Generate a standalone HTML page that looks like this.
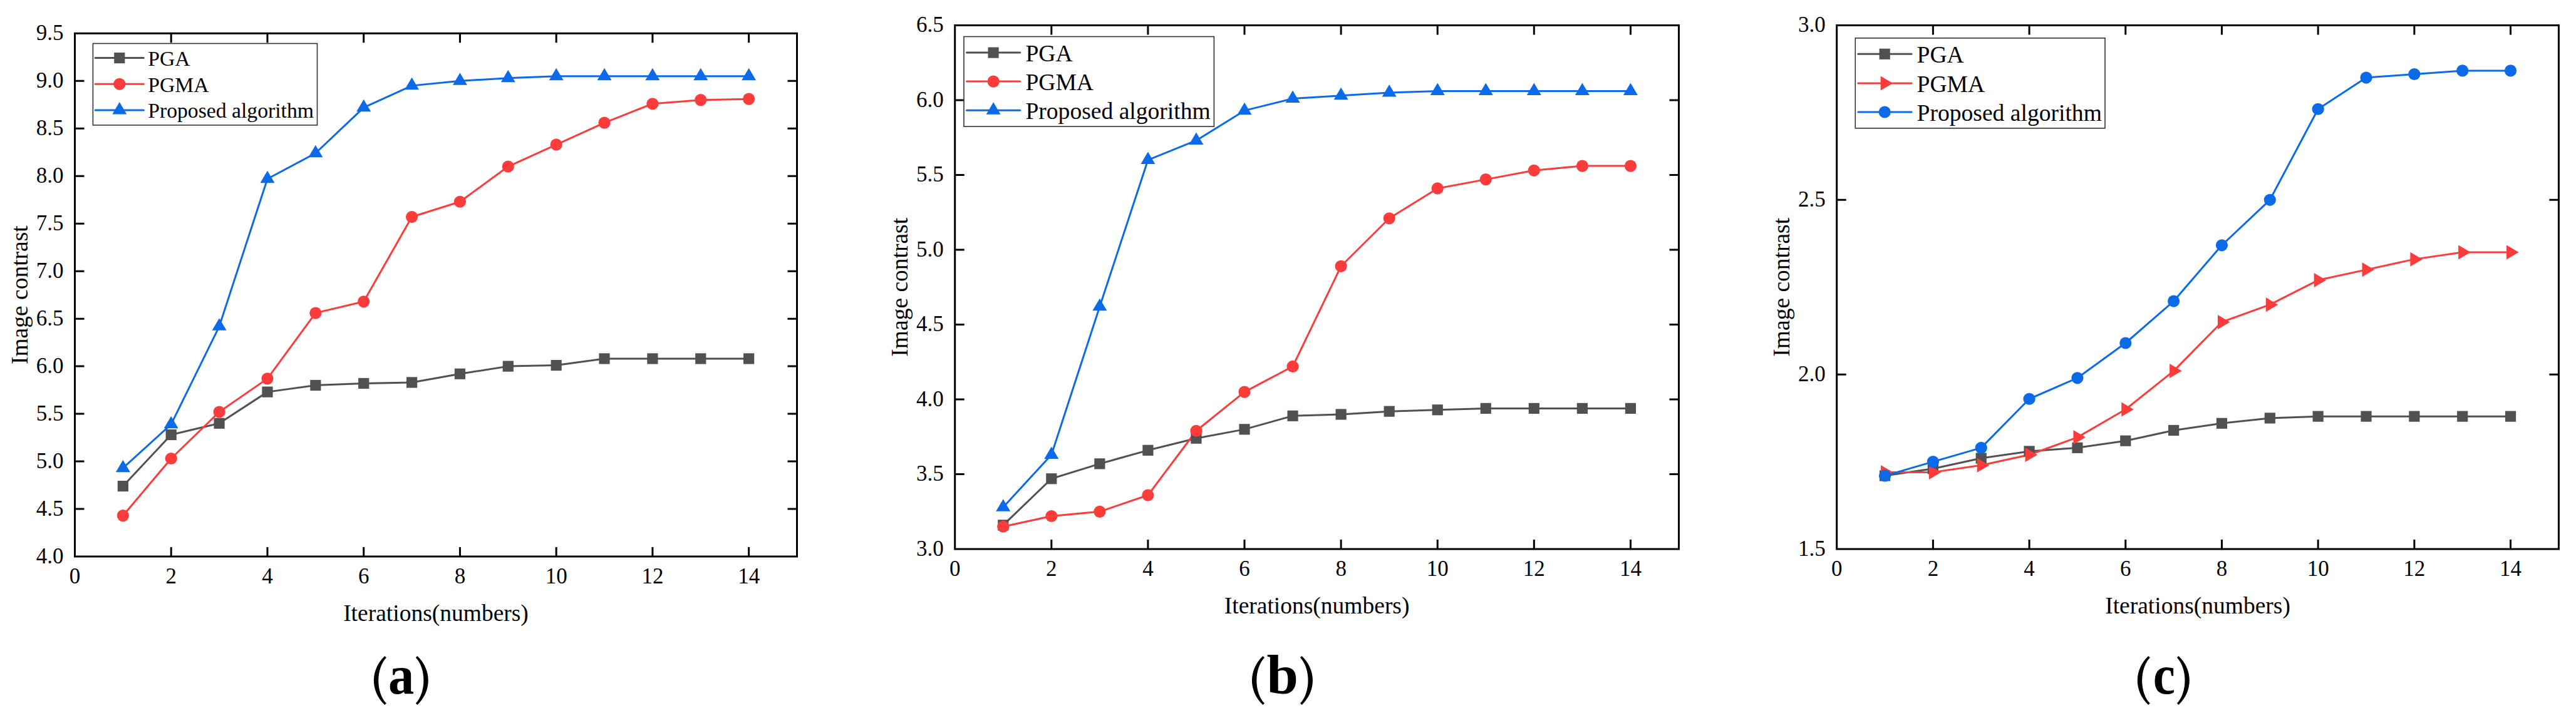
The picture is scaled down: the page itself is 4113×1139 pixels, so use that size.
<!DOCTYPE html>
<html><head><meta charset="utf-8"><style>
html,body{margin:0;padding:0;background:#fff;}
body{width:4113px;height:1139px;overflow:hidden;}
svg{display:block;}
text{font-family:"Liberation Serif", serif;fill:#000;}
</style></head><body>
<svg width="4113" height="1139" viewBox="0 0 4113 1139">
<rect width="4113" height="1139" fill="#fff"/>
<polyline points="196.37,776.56 273.23,694.51 350.10,676.28 426.97,626.13 503.83,615.50 580.70,612.46 657.57,610.94 734.43,597.26 811.30,585.11 888.17,583.59 965.03,572.95 1041.90,572.95 1118.77,572.95 1195.63,572.95" fill="none" stroke="#515151" stroke-width="3.0" stroke-linejoin="round" stroke-linecap="round"/>
<polyline points="196.37,823.66 273.23,732.50 350.10,658.04 426.97,604.86 503.83,500.02 580.70,481.79 657.57,346.55 734.43,322.24 811.30,266.02 888.17,231.08 965.03,196.13 1041.90,165.74 1118.77,159.66 1195.63,158.14" fill="none" stroke="#FC3B3B" stroke-width="3.0" stroke-linejoin="round" stroke-linecap="round"/>
<polyline points="196.37,747.69 273.23,677.80 350.10,521.29 426.97,285.78 503.83,244.75 580.70,171.82 657.57,136.87 734.43,129.27 811.30,124.71 888.17,121.68 965.03,121.68 1041.90,121.68 1118.77,121.68 1195.63,121.68" fill="none" stroke="#0B6AE8" stroke-width="3.0" stroke-linejoin="round" stroke-linecap="round"/>
<rect x="187.77" y="767.96" width="17.20" height="17.20" fill="#515151"/>
<rect x="264.63" y="685.91" width="17.20" height="17.20" fill="#515151"/>
<rect x="341.50" y="667.68" width="17.20" height="17.20" fill="#515151"/>
<rect x="418.37" y="617.53" width="17.20" height="17.20" fill="#515151"/>
<rect x="495.23" y="606.90" width="17.20" height="17.20" fill="#515151"/>
<rect x="572.10" y="603.86" width="17.20" height="17.20" fill="#515151"/>
<rect x="648.97" y="602.34" width="17.20" height="17.20" fill="#515151"/>
<rect x="725.83" y="588.66" width="17.20" height="17.20" fill="#515151"/>
<rect x="802.70" y="576.51" width="17.20" height="17.20" fill="#515151"/>
<rect x="879.57" y="574.99" width="17.20" height="17.20" fill="#515151"/>
<rect x="956.43" y="564.35" width="17.20" height="17.20" fill="#515151"/>
<rect x="1033.30" y="564.35" width="17.20" height="17.20" fill="#515151"/>
<rect x="1110.17" y="564.35" width="17.20" height="17.20" fill="#515151"/>
<rect x="1187.03" y="564.35" width="17.20" height="17.20" fill="#515151"/>
<circle cx="196.37" cy="823.66" r="9.60" fill="#FC3B3B"/>
<circle cx="273.23" cy="732.50" r="9.60" fill="#FC3B3B"/>
<circle cx="350.10" cy="658.04" r="9.60" fill="#FC3B3B"/>
<circle cx="426.97" cy="604.86" r="9.60" fill="#FC3B3B"/>
<circle cx="503.83" cy="500.02" r="9.60" fill="#FC3B3B"/>
<circle cx="580.70" cy="481.79" r="9.60" fill="#FC3B3B"/>
<circle cx="657.57" cy="346.55" r="9.60" fill="#FC3B3B"/>
<circle cx="734.43" cy="322.24" r="9.60" fill="#FC3B3B"/>
<circle cx="811.30" cy="266.02" r="9.60" fill="#FC3B3B"/>
<circle cx="888.17" cy="231.08" r="9.60" fill="#FC3B3B"/>
<circle cx="965.03" cy="196.13" r="9.60" fill="#FC3B3B"/>
<circle cx="1041.90" cy="165.74" r="9.60" fill="#FC3B3B"/>
<circle cx="1118.77" cy="159.66" r="9.60" fill="#FC3B3B"/>
<circle cx="1195.63" cy="158.14" r="9.60" fill="#FC3B3B"/>
<polygon points="196.37,734.69 207.87,754.19 184.87,754.19" fill="#0B6AE8"/>
<polygon points="273.23,664.80 284.73,684.30 261.73,684.30" fill="#0B6AE8"/>
<polygon points="350.10,508.29 361.60,527.79 338.60,527.79" fill="#0B6AE8"/>
<polygon points="426.97,272.78 438.47,292.28 415.47,292.28" fill="#0B6AE8"/>
<polygon points="503.83,231.75 515.33,251.25 492.33,251.25" fill="#0B6AE8"/>
<polygon points="580.70,158.82 592.20,178.32 569.20,178.32" fill="#0B6AE8"/>
<polygon points="657.57,123.87 669.07,143.37 646.07,143.37" fill="#0B6AE8"/>
<polygon points="734.43,116.27 745.93,135.77 722.93,135.77" fill="#0B6AE8"/>
<polygon points="811.30,111.71 822.80,131.21 799.80,131.21" fill="#0B6AE8"/>
<polygon points="888.17,108.68 899.67,128.18 876.67,128.18" fill="#0B6AE8"/>
<polygon points="965.03,108.68 976.53,128.18 953.53,128.18" fill="#0B6AE8"/>
<polygon points="1041.90,108.68 1053.40,128.18 1030.40,128.18" fill="#0B6AE8"/>
<polygon points="1118.77,108.68 1130.27,128.18 1107.27,128.18" fill="#0B6AE8"/>
<polygon points="1195.63,108.68 1207.13,128.18 1184.13,128.18" fill="#0B6AE8"/>
<rect x="119.50" y="53.30" width="1153.00" height="835.70" fill="none" stroke="#000" stroke-width="3.0" stroke-linejoin="miter"/>
<path d="M273.23,889.00V874.00M273.23,53.30V68.30M426.97,889.00V874.00M426.97,53.30V68.30M580.70,889.00V874.00M580.70,53.30V68.30M734.43,889.00V874.00M734.43,53.30V68.30M888.17,889.00V874.00M888.17,53.30V68.30M1041.90,889.00V874.00M1041.90,53.30V68.30M1195.63,889.00V874.00M1195.63,53.30V68.30M119.50,813.03H134.50M1272.50,813.03H1257.50M119.50,737.05H134.50M1272.50,737.05H1257.50M119.50,661.08H134.50M1272.50,661.08H1257.50M119.50,585.11H134.50M1272.50,585.11H1257.50M119.50,509.14H134.50M1272.50,509.14H1257.50M119.50,433.16H134.50M1272.50,433.16H1257.50M119.50,357.19H134.50M1272.50,357.19H1257.50M119.50,281.22H134.50M1272.50,281.22H1257.50M119.50,205.25H134.50M1272.50,205.25H1257.50M119.50,129.27H134.50M1272.50,129.27H1257.50" stroke="#000" stroke-width="3.0" fill="none"/>
<text x="119.50" y="932.20" text-anchor="middle" font-size="35">0</text>
<text x="273.23" y="932.20" text-anchor="middle" font-size="35">2</text>
<text x="426.97" y="932.20" text-anchor="middle" font-size="35">4</text>
<text x="580.70" y="932.20" text-anchor="middle" font-size="35">6</text>
<text x="734.43" y="932.20" text-anchor="middle" font-size="35">8</text>
<text x="888.17" y="932.20" text-anchor="middle" font-size="35">10</text>
<text x="1041.90" y="932.20" text-anchor="middle" font-size="35">12</text>
<text x="1195.63" y="932.20" text-anchor="middle" font-size="35">14</text>
<text x="101.50" y="899.80" text-anchor="end" font-size="35">4.0</text>
<text x="101.50" y="823.83" text-anchor="end" font-size="35">4.5</text>
<text x="101.50" y="747.85" text-anchor="end" font-size="35">5.0</text>
<text x="101.50" y="671.88" text-anchor="end" font-size="35">5.5</text>
<text x="101.50" y="595.91" text-anchor="end" font-size="35">6.0</text>
<text x="101.50" y="519.94" text-anchor="end" font-size="35">6.5</text>
<text x="101.50" y="443.96" text-anchor="end" font-size="35">7.0</text>
<text x="101.50" y="367.99" text-anchor="end" font-size="35">7.5</text>
<text x="101.50" y="292.02" text-anchor="end" font-size="35">8.0</text>
<text x="101.50" y="216.05" text-anchor="end" font-size="35">8.5</text>
<text x="101.50" y="140.07" text-anchor="end" font-size="35">9.0</text>
<text x="101.50" y="64.10" text-anchor="end" font-size="35">9.5</text>
<text x="696.00" y="991.90" text-anchor="middle" font-size="37.5">Iterations(numbers)</text>
<text transform="translate(44.00,471.15) rotate(-90)" text-anchor="middle" font-size="37.5">Image contrast</text>
<rect x="148.40" y="69.50" width="358.10" height="130.40" fill="#fff" stroke="#333" stroke-width="1.6"/>
<line x1="152.20" y1="92.60" x2="229.40" y2="92.60" stroke="#515151" stroke-width="3.0" stroke-linecap="round"/>
<rect x="182.20" y="84.00" width="17.20" height="17.20" fill="#515151"/>
<text x="236.20" y="104.80" font-size="33.7">PGA</text>
<line x1="152.20" y1="134.30" x2="229.40" y2="134.30" stroke="#FC3B3B" stroke-width="3.0" stroke-linecap="round"/>
<circle cx="190.80" cy="134.30" r="9.60" fill="#FC3B3B"/>
<text x="236.20" y="146.50" font-size="33.7">PGMA</text>
<line x1="152.20" y1="176.10" x2="229.40" y2="176.10" stroke="#0B6AE8" stroke-width="3.0" stroke-linecap="round"/>
<polygon points="190.80,163.10 202.30,182.60 179.30,182.60" fill="#0B6AE8"/>
<text x="236.20" y="188.30" font-size="33.7">Proposed algorithm</text>
<path d="M616.90,1050.40 C600.10,1068.00 600.10,1106.00 616.90,1123.60 L614.30,1126.00 C591.10,1104.00 591.10,1070.00 614.30,1048.00 Z" fill="#000"/>
<path d="M663.80,1050.40 C680.60,1068.00 680.60,1106.00 663.80,1123.60 L666.40,1126.00 C689.60,1104.00 689.60,1070.00 666.40,1048.00 Z" fill="#000"/>
<text transform="translate(640.58,1107.8) scale(0.925,1)" x="0" y="0" text-anchor="middle" font-size="89" font-weight="bold">a</text>
<polyline points="1601.75,838.85 1678.81,764.74 1755.86,740.84 1832.91,719.32 1909.97,700.20 1987.02,685.85 2064.07,664.34 2141.13,661.95 2218.18,657.17 2295.23,654.78 2372.29,652.39 2449.34,652.39 2526.39,652.39 2603.45,652.39" fill="none" stroke="#515151" stroke-width="3.0" stroke-linejoin="round" stroke-linecap="round"/>
<polyline points="1601.75,841.24 1678.81,824.51 1755.86,817.34 1832.91,791.04 1909.97,688.24 1987.02,626.09 2064.07,585.45 2141.13,425.28 2218.18,348.78 2295.23,300.97 2372.29,286.63 2449.34,272.29 2526.39,265.11 2603.45,265.11" fill="none" stroke="#FC3B3B" stroke-width="3.0" stroke-linejoin="round" stroke-linecap="round"/>
<polyline points="1601.75,810.16 1678.81,726.49 1755.86,489.83 1832.91,255.55 1909.97,224.47 1987.02,176.66 2064.07,157.54 2141.13,152.76 2218.18,147.98 2295.23,145.59 2372.29,145.59 2449.34,145.59 2526.39,145.59 2603.45,145.59" fill="none" stroke="#0B6AE8" stroke-width="3.0" stroke-linejoin="round" stroke-linecap="round"/>
<rect x="1593.15" y="830.25" width="17.20" height="17.20" fill="#515151"/>
<rect x="1670.21" y="756.14" width="17.20" height="17.20" fill="#515151"/>
<rect x="1747.26" y="732.24" width="17.20" height="17.20" fill="#515151"/>
<rect x="1824.31" y="710.72" width="17.20" height="17.20" fill="#515151"/>
<rect x="1901.37" y="691.60" width="17.20" height="17.20" fill="#515151"/>
<rect x="1978.42" y="677.25" width="17.20" height="17.20" fill="#515151"/>
<rect x="2055.47" y="655.74" width="17.20" height="17.20" fill="#515151"/>
<rect x="2132.53" y="653.35" width="17.20" height="17.20" fill="#515151"/>
<rect x="2209.58" y="648.57" width="17.20" height="17.20" fill="#515151"/>
<rect x="2286.63" y="646.18" width="17.20" height="17.20" fill="#515151"/>
<rect x="2363.69" y="643.79" width="17.20" height="17.20" fill="#515151"/>
<rect x="2440.74" y="643.79" width="17.20" height="17.20" fill="#515151"/>
<rect x="2517.79" y="643.79" width="17.20" height="17.20" fill="#515151"/>
<rect x="2594.85" y="643.79" width="17.20" height="17.20" fill="#515151"/>
<circle cx="1601.75" cy="841.24" r="9.60" fill="#FC3B3B"/>
<circle cx="1678.81" cy="824.51" r="9.60" fill="#FC3B3B"/>
<circle cx="1755.86" cy="817.34" r="9.60" fill="#FC3B3B"/>
<circle cx="1832.91" cy="791.04" r="9.60" fill="#FC3B3B"/>
<circle cx="1909.97" cy="688.24" r="9.60" fill="#FC3B3B"/>
<circle cx="1987.02" cy="626.09" r="9.60" fill="#FC3B3B"/>
<circle cx="2064.07" cy="585.45" r="9.60" fill="#FC3B3B"/>
<circle cx="2141.13" cy="425.28" r="9.60" fill="#FC3B3B"/>
<circle cx="2218.18" cy="348.78" r="9.60" fill="#FC3B3B"/>
<circle cx="2295.23" cy="300.97" r="9.60" fill="#FC3B3B"/>
<circle cx="2372.29" cy="286.63" r="9.60" fill="#FC3B3B"/>
<circle cx="2449.34" cy="272.29" r="9.60" fill="#FC3B3B"/>
<circle cx="2526.39" cy="265.11" r="9.60" fill="#FC3B3B"/>
<circle cx="2603.45" cy="265.11" r="9.60" fill="#FC3B3B"/>
<polygon points="1601.75,797.16 1613.25,816.66 1590.25,816.66" fill="#0B6AE8"/>
<polygon points="1678.81,713.49 1690.31,732.99 1667.31,732.99" fill="#0B6AE8"/>
<polygon points="1755.86,476.83 1767.36,496.33 1744.36,496.33" fill="#0B6AE8"/>
<polygon points="1832.91,242.55 1844.41,262.05 1821.41,262.05" fill="#0B6AE8"/>
<polygon points="1909.97,211.47 1921.47,230.97 1898.47,230.97" fill="#0B6AE8"/>
<polygon points="1987.02,163.66 1998.52,183.16 1975.52,183.16" fill="#0B6AE8"/>
<polygon points="2064.07,144.54 2075.57,164.04 2052.57,164.04" fill="#0B6AE8"/>
<polygon points="2141.13,139.76 2152.63,159.26 2129.63,159.26" fill="#0B6AE8"/>
<polygon points="2218.18,134.98 2229.68,154.48 2206.68,154.48" fill="#0B6AE8"/>
<polygon points="2295.23,132.59 2306.73,152.09 2283.73,152.09" fill="#0B6AE8"/>
<polygon points="2372.29,132.59 2383.79,152.09 2360.79,152.09" fill="#0B6AE8"/>
<polygon points="2449.34,132.59 2460.84,152.09 2437.84,152.09" fill="#0B6AE8"/>
<polygon points="2526.39,132.59 2537.89,152.09 2514.89,152.09" fill="#0B6AE8"/>
<polygon points="2603.45,132.59 2614.95,152.09 2591.95,152.09" fill="#0B6AE8"/>
<rect x="1524.70" y="40.40" width="1155.80" height="836.70" fill="none" stroke="#000" stroke-width="3.0" stroke-linejoin="miter"/>
<path d="M1678.81,877.10V862.10M1678.81,40.40V55.40M1832.91,877.10V862.10M1832.91,40.40V55.40M1987.02,877.10V862.10M1987.02,40.40V55.40M2141.13,877.10V862.10M2141.13,40.40V55.40M2295.23,877.10V862.10M2295.23,40.40V55.40M2449.34,877.10V862.10M2449.34,40.40V55.40M2603.45,877.10V862.10M2603.45,40.40V55.40M1524.70,757.57H1539.70M2680.50,757.57H2665.50M1524.70,638.04H1539.70M2680.50,638.04H2665.50M1524.70,518.51H1539.70M2680.50,518.51H2665.50M1524.70,398.99H1539.70M2680.50,398.99H2665.50M1524.70,279.46H1539.70M2680.50,279.46H2665.50M1524.70,159.93H1539.70M2680.50,159.93H2665.50" stroke="#000" stroke-width="3.0" fill="none"/>
<text x="1524.70" y="920.30" text-anchor="middle" font-size="35">0</text>
<text x="1678.81" y="920.30" text-anchor="middle" font-size="35">2</text>
<text x="1832.91" y="920.30" text-anchor="middle" font-size="35">4</text>
<text x="1987.02" y="920.30" text-anchor="middle" font-size="35">6</text>
<text x="2141.13" y="920.30" text-anchor="middle" font-size="35">8</text>
<text x="2295.23" y="920.30" text-anchor="middle" font-size="35">10</text>
<text x="2449.34" y="920.30" text-anchor="middle" font-size="35">12</text>
<text x="2603.45" y="920.30" text-anchor="middle" font-size="35">14</text>
<text x="1506.70" y="887.90" text-anchor="end" font-size="35">3.0</text>
<text x="1506.70" y="768.37" text-anchor="end" font-size="35">3.5</text>
<text x="1506.70" y="648.84" text-anchor="end" font-size="35">4.0</text>
<text x="1506.70" y="529.31" text-anchor="end" font-size="35">4.5</text>
<text x="1506.70" y="409.79" text-anchor="end" font-size="35">5.0</text>
<text x="1506.70" y="290.26" text-anchor="end" font-size="35">5.5</text>
<text x="1506.70" y="170.73" text-anchor="end" font-size="35">6.0</text>
<text x="1506.70" y="51.20" text-anchor="end" font-size="35">6.5</text>
<text x="2102.60" y="980.00" text-anchor="middle" font-size="37.5">Iterations(numbers)</text>
<text transform="translate(1449.20,458.75) rotate(-90)" text-anchor="middle" font-size="37.5">Image contrast</text>
<rect x="1539.00" y="58.50" width="399.40" height="143.60" fill="#fff" stroke="#333" stroke-width="1.6"/>
<line x1="1543.50" y1="84.10" x2="1628.70" y2="84.10" stroke="#515151" stroke-width="3.0" stroke-linecap="round"/>
<rect x="1577.50" y="75.50" width="17.20" height="17.20" fill="#515151"/>
<text x="1637.40" y="97.60" font-size="37.6">PGA</text>
<line x1="1543.50" y1="130.10" x2="1628.70" y2="130.10" stroke="#FC3B3B" stroke-width="3.0" stroke-linecap="round"/>
<circle cx="1586.10" cy="130.10" r="9.60" fill="#FC3B3B"/>
<text x="1637.40" y="143.60" font-size="37.6">PGMA</text>
<line x1="1543.50" y1="176.30" x2="1628.70" y2="176.30" stroke="#0B6AE8" stroke-width="3.0" stroke-linecap="round"/>
<polygon points="1586.10,163.30 1597.60,182.80 1574.60,182.80" fill="#0B6AE8"/>
<text x="1637.40" y="189.80" font-size="37.6">Proposed algorithm</text>
<path d="M2019.00,1050.40 C2002.20,1068.00 2002.20,1106.00 2019.00,1123.60 L2016.40,1126.00 C1993.20,1104.00 1993.20,1070.00 2016.40,1048.00 Z" fill="#000"/>
<path d="M2076.00,1050.40 C2092.80,1068.00 2092.80,1106.00 2076.00,1123.60 L2078.60,1126.00 C2101.80,1104.00 2101.80,1070.00 2078.60,1048.00 Z" fill="#000"/>
<text transform="translate(2047.63,1107.8) scale(1.02,1)" x="0" y="0" text-anchor="middle" font-size="89" font-weight="bold">b</text>
<polyline points="3009.55,759.96 3086.39,748.81 3163.24,732.07 3240.09,720.92 3316.93,715.34 3393.78,704.18 3470.63,687.45 3547.47,676.29 3624.32,667.92 3701.17,665.14 3778.01,665.14 3854.86,665.14 3931.71,665.14 4008.55,665.14" fill="none" stroke="#515151" stroke-width="3.0" stroke-linejoin="round" stroke-linecap="round"/>
<polyline points="3009.55,754.38 3086.39,754.38 3163.24,743.23 3240.09,726.49 3316.93,698.60 3393.78,653.98 3470.63,592.62 3547.47,514.53 3624.32,486.64 3701.17,447.59 3778.01,430.86 3854.86,414.13 3931.71,402.97 4008.55,402.97" fill="none" stroke="#FC3B3B" stroke-width="3.0" stroke-linejoin="round" stroke-linecap="round"/>
<polyline points="3009.55,759.96 3086.39,737.65 3163.24,715.34 3240.09,637.25 3316.93,603.78 3393.78,548.00 3470.63,481.06 3547.47,391.81 3624.32,319.30 3701.17,174.27 3778.01,124.07 3854.86,118.49 3931.71,112.91 4008.55,112.91" fill="none" stroke="#0B6AE8" stroke-width="3.0" stroke-linejoin="round" stroke-linecap="round"/>
<rect x="3000.95" y="751.36" width="17.20" height="17.20" fill="#515151"/>
<rect x="3077.79" y="740.21" width="17.20" height="17.20" fill="#515151"/>
<rect x="3154.64" y="723.47" width="17.20" height="17.20" fill="#515151"/>
<rect x="3231.49" y="712.32" width="17.20" height="17.20" fill="#515151"/>
<rect x="3308.33" y="706.74" width="17.20" height="17.20" fill="#515151"/>
<rect x="3385.18" y="695.58" width="17.20" height="17.20" fill="#515151"/>
<rect x="3462.03" y="678.85" width="17.20" height="17.20" fill="#515151"/>
<rect x="3538.87" y="667.69" width="17.20" height="17.20" fill="#515151"/>
<rect x="3615.72" y="659.32" width="17.20" height="17.20" fill="#515151"/>
<rect x="3692.57" y="656.54" width="17.20" height="17.20" fill="#515151"/>
<rect x="3769.41" y="656.54" width="17.20" height="17.20" fill="#515151"/>
<rect x="3846.26" y="656.54" width="17.20" height="17.20" fill="#515151"/>
<rect x="3923.11" y="656.54" width="17.20" height="17.20" fill="#515151"/>
<rect x="3999.95" y="656.54" width="17.20" height="17.20" fill="#515151"/>
<polygon points="3003.05,742.88 3022.55,754.38 3003.05,765.88" fill="#FC3B3B"/>
<polygon points="3079.89,742.88 3099.39,754.38 3079.89,765.88" fill="#FC3B3B"/>
<polygon points="3156.74,731.73 3176.24,743.23 3156.74,754.73" fill="#FC3B3B"/>
<polygon points="3233.59,714.99 3253.09,726.49 3233.59,737.99" fill="#FC3B3B"/>
<polygon points="3310.43,687.10 3329.93,698.60 3310.43,710.10" fill="#FC3B3B"/>
<polygon points="3387.28,642.48 3406.78,653.98 3387.28,665.48" fill="#FC3B3B"/>
<polygon points="3464.13,581.12 3483.63,592.62 3464.13,604.12" fill="#FC3B3B"/>
<polygon points="3540.97,503.03 3560.47,514.53 3540.97,526.03" fill="#FC3B3B"/>
<polygon points="3617.82,475.14 3637.32,486.64 3617.82,498.14" fill="#FC3B3B"/>
<polygon points="3694.67,436.09 3714.17,447.59 3694.67,459.09" fill="#FC3B3B"/>
<polygon points="3771.51,419.36 3791.01,430.86 3771.51,442.36" fill="#FC3B3B"/>
<polygon points="3848.36,402.63 3867.86,414.13 3848.36,425.63" fill="#FC3B3B"/>
<polygon points="3925.21,391.47 3944.71,402.97 3925.21,414.47" fill="#FC3B3B"/>
<polygon points="4002.05,391.47 4021.55,402.97 4002.05,414.47" fill="#FC3B3B"/>
<circle cx="3009.55" cy="759.96" r="9.60" fill="#0B6AE8"/>
<circle cx="3086.39" cy="737.65" r="9.60" fill="#0B6AE8"/>
<circle cx="3163.24" cy="715.34" r="9.60" fill="#0B6AE8"/>
<circle cx="3240.09" cy="637.25" r="9.60" fill="#0B6AE8"/>
<circle cx="3316.93" cy="603.78" r="9.60" fill="#0B6AE8"/>
<circle cx="3393.78" cy="548.00" r="9.60" fill="#0B6AE8"/>
<circle cx="3470.63" cy="481.06" r="9.60" fill="#0B6AE8"/>
<circle cx="3547.47" cy="391.81" r="9.60" fill="#0B6AE8"/>
<circle cx="3624.32" cy="319.30" r="9.60" fill="#0B6AE8"/>
<circle cx="3701.17" cy="174.27" r="9.60" fill="#0B6AE8"/>
<circle cx="3778.01" cy="124.07" r="9.60" fill="#0B6AE8"/>
<circle cx="3854.86" cy="118.49" r="9.60" fill="#0B6AE8"/>
<circle cx="3931.71" cy="112.91" r="9.60" fill="#0B6AE8"/>
<circle cx="4008.55" cy="112.91" r="9.60" fill="#0B6AE8"/>
<rect x="2932.70" y="40.40" width="1152.70" height="836.70" fill="none" stroke="#000" stroke-width="3.0" stroke-linejoin="miter"/>
<path d="M3086.39,877.10V862.10M3086.39,40.40V55.40M3240.09,877.10V862.10M3240.09,40.40V55.40M3393.78,877.10V862.10M3393.78,40.40V55.40M3547.47,877.10V862.10M3547.47,40.40V55.40M3701.17,877.10V862.10M3701.17,40.40V55.40M3854.86,877.10V862.10M3854.86,40.40V55.40M4008.55,877.10V862.10M4008.55,40.40V55.40M2932.70,598.20H2947.70M4085.40,598.20H4070.40M2932.70,319.30H2947.70M4085.40,319.30H4070.40" stroke="#000" stroke-width="3.0" fill="none"/>
<text x="2932.70" y="920.30" text-anchor="middle" font-size="35">0</text>
<text x="3086.39" y="920.30" text-anchor="middle" font-size="35">2</text>
<text x="3240.09" y="920.30" text-anchor="middle" font-size="35">4</text>
<text x="3393.78" y="920.30" text-anchor="middle" font-size="35">6</text>
<text x="3547.47" y="920.30" text-anchor="middle" font-size="35">8</text>
<text x="3701.17" y="920.30" text-anchor="middle" font-size="35">10</text>
<text x="3854.86" y="920.30" text-anchor="middle" font-size="35">12</text>
<text x="4008.55" y="920.30" text-anchor="middle" font-size="35">14</text>
<text x="2914.70" y="887.90" text-anchor="end" font-size="35">1.5</text>
<text x="2914.70" y="609.00" text-anchor="end" font-size="35">2.0</text>
<text x="2914.70" y="330.10" text-anchor="end" font-size="35">2.5</text>
<text x="2914.70" y="51.20" text-anchor="end" font-size="35">3.0</text>
<text x="3509.05" y="980.00" text-anchor="middle" font-size="37.5">Iterations(numbers)</text>
<text transform="translate(2857.20,458.75) rotate(-90)" text-anchor="middle" font-size="37.5">Image contrast</text>
<rect x="2962.30" y="60.80" width="398.70" height="144.00" fill="#fff" stroke="#333" stroke-width="1.6"/>
<line x1="2966.80" y1="86.30" x2="3052.10" y2="86.30" stroke="#515151" stroke-width="3.0" stroke-linecap="round"/>
<rect x="3000.60" y="77.70" width="17.20" height="17.20" fill="#515151"/>
<text x="3060.50" y="99.80" font-size="37.6">PGA</text>
<line x1="2966.80" y1="133.00" x2="3052.10" y2="133.00" stroke="#FC3B3B" stroke-width="3.0" stroke-linecap="round"/>
<polygon points="3002.70,121.50 3022.20,133.00 3002.70,144.50" fill="#FC3B3B"/>
<text x="3060.50" y="146.50" font-size="37.6">PGMA</text>
<line x1="2966.80" y1="179.00" x2="3052.10" y2="179.00" stroke="#0B6AE8" stroke-width="3.0" stroke-linecap="round"/>
<circle cx="3009.20" cy="179.00" r="9.60" fill="#0B6AE8"/>
<text x="3060.50" y="192.50" font-size="37.6">Proposed algorithm</text>
<path d="M3432.80,1050.40 C3416.00,1068.00 3416.00,1106.00 3432.80,1123.60 L3430.20,1126.00 C3407.00,1104.00 3407.00,1070.00 3430.20,1048.00 Z" fill="#000"/>
<path d="M3475.90,1050.40 C3492.70,1068.00 3492.70,1106.00 3475.90,1123.60 L3478.50,1126.00 C3501.70,1104.00 3501.70,1070.00 3478.50,1048.00 Z" fill="#000"/>
<text transform="translate(3455.20,1107.8) scale(0.89,1)" x="0" y="0" text-anchor="middle" font-size="89" font-weight="bold">c</text>
</svg>
</body></html>
